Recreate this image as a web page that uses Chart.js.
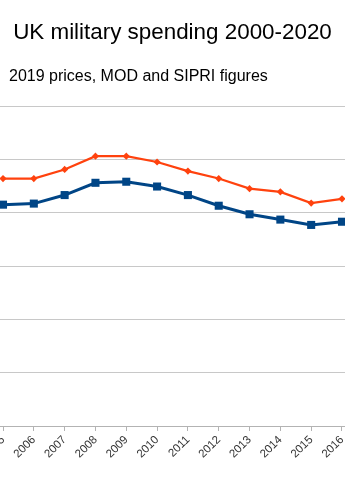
<!DOCTYPE html>
<html>
<head>
<meta charset="utf-8">
<script src="https://cdn.jsdelivr.net/npm/chart.js@4"></script>
<style>
  html, body { margin: 0; padding: 0; background: #fff; }
  body { width: 345px; height: 488px; overflow: hidden; position: relative; font-family: "Liberation Sans", Arial, sans-serif; }
  #title { position: absolute; left: 0; top: 21px; width: 345px; text-align: center; font-size: 22.4px; line-height: 1; color: #000; }
  #subtitle { position: absolute; left: 9px; top: 68px; font-size: 16px; line-height: 1; color: #000; white-space: nowrap; }
  #wrap { position: absolute; left: -40px; top: 0; width: 425px; height: 488px; }
</style>
</head>
<body>
<div id="wrap"><canvas id="lineChart"></canvas></div>
<div id="title">UK military spending 2000-2020</div>
<div id="subtitle">2019 prices, MOD and SIPRI figures</div>
<script>
// Valores (só os anos visíveis), bilhões de libras
const years = ["2005", "2006", "2007", "2008", "2009", "2010", "2011", "2012", "2013", "2014", "2015", "2016"];
const sipri = [46.4, 46.4, 48.1, 50.6, 50.6, 49.5, 47.8, 46.4, 44.5, 43.9, 41.8, 42.6];
const mod = [41.5, 41.7, 43.3, 45.6, 45.8, 44.9, 43.3, 41.3, 39.7, 38.7, 37.7, 38.3];
const yTicks = [0, 10, 20, 30, 40, 50, 60];

new Chart(document.getElementById("lineChart"), {
  type: "line",

  data: {
    labels: years,

    datasets: [
      {
        label: "MOD",
        data: mod,
        borderColor: "#004586",
        backgroundColor: "#004586",
        borderWidth: 3,
        pointStyle: "rect",
        pointRadius: 5.7,
        pointBorderWidth: 0,
        tension: 0,
      },
      {
        label: "SIPRI",
        data: sipri,
        borderColor: "#ff420e",
        backgroundColor: "#ff420e",
        borderWidth: 2.2,
        pointStyle: "rectRot",
        pointRadius: 3.6,
        pointBorderWidth: 0,
        tension: 0,
      },
    ],
  },

  options: {
    responsive: true,
    maintainAspectRatio: false,
    animation: false,

    layout: {
      padding: { left: 27.6, right: 27.6, top: 106, bottom: 0 },
    },

    plugins: {
      legend: { display: false },
      tooltip: { enabled: false },
    },

    scales: {
      x: {
        offset: true,
        grid: {
          drawOnChartArea: false,
          drawTicks: true,
          tickLength: 5,
          color: "#b3b3b3",
        },
        border: { color: "#b3b3b3" },
        ticks: {
          color: "#333333",
          autoSkip: false,
          minRotation: 45,
          maxRotation: 45,
          padding: 2,
          font: { family: "Liberation Sans", size: 11.5 },
        },
        afterFit: function (scale) {
          scale.height = 62;
        },
      },

      y: {
        min: yTicks[0],
        max: yTicks[yTicks.length - 1],
        afterBuildTicks: function (scale) {
          scale.ticks = yTicks.map((v) => ({ value: v }));
        },
        grid: {
          color: "#c8c8c8",
          drawTicks: false,
        },
        border: { display: false },
        ticks: { display: false },
      },
    },
  },
});
</script>
</body>
</html>
